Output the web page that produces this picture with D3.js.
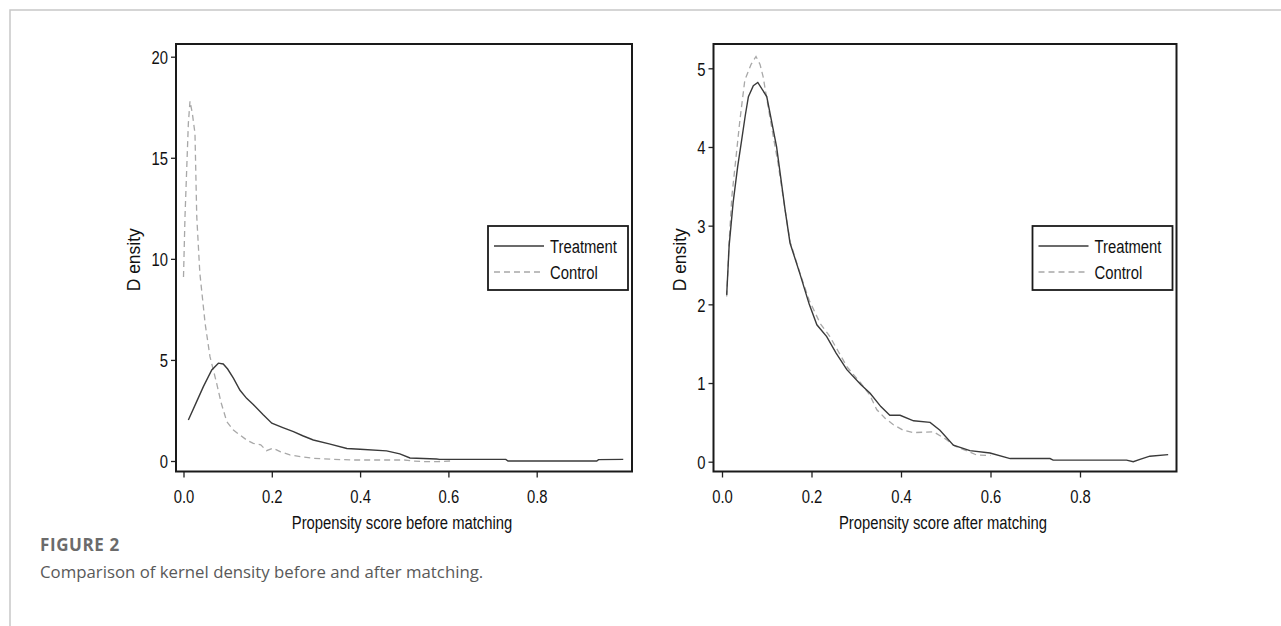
<!DOCTYPE html>
<html>
<head>
<meta charset="utf-8">
<script src="https://cdn.jsdelivr.net/npm/d3@7"></script>
<style>
  body { margin: 0; background: #fff; }
  .tick text, .legend text, .xtitle { font-family: "Liberation Sans", Arial, sans-serif; }
</style>
</head>
<body>
<div id="chart"></div>
<script>
// chart size
const width = 1281;
const height = 626;
const narrow = 0.78; // squeeze the labels to look like the condensed font of the original
const labelSize = "19px";

// kernel density values: [propensity score, density]
const beforeTreatment = [[0.011,2.03],[0.03,2.95],[0.045,3.68],[0.064,4.5],[0.079,4.84],[0.09,4.8],[0.1,4.55],[0.113,4.1],[0.128,3.5],[0.143,3.1],[0.158,2.8],[0.18,2.3],[0.2,1.87],[0.225,1.65],[0.249,1.45],[0.27,1.25],[0.294,1.04],[0.33,0.85],[0.37,0.62],[0.4,0.58],[0.46,0.5],[0.49,0.35],[0.513,0.15],[0.573,0.1],[0.58,0.08],[0.73,0.08],[0.735,0.0],[0.936,0.0],[0.94,0.07],[0.996,0.08]];
const beforeControl = [[0.0,9.1],[0.0034,12.1],[0.011,16.7],[0.0147,17.8],[0.02,17.2],[0.026,16.2],[0.03,12.1],[0.037,9.3],[0.049,6.8],[0.06,5.16],[0.075,3.85],[0.085,2.9],[0.098,1.95],[0.113,1.53],[0.13,1.25],[0.143,1.04],[0.158,0.87],[0.175,0.8],[0.188,0.51],[0.203,0.63],[0.22,0.45],[0.241,0.3],[0.27,0.2],[0.294,0.13],[0.34,0.08],[0.385,0.05],[0.5,0.05],[0.52,0.0],[0.543,-0.03],[0.575,-0.03],[0.604,0.0]];
const afterTreatment = [[0.0105,2.12],[0.016,2.75],[0.025,3.3],[0.035,3.75],[0.044,4.09],[0.052,4.4],[0.059,4.64],[0.07,4.78],[0.08,4.82],[0.1,4.64],[0.122,4.0],[0.141,3.2],[0.152,2.78],[0.174,2.39],[0.195,2.0],[0.212,1.74],[0.234,1.59],[0.255,1.38],[0.279,1.17],[0.31,0.98],[0.331,0.87],[0.355,0.7],[0.375,0.59],[0.398,0.59],[0.428,0.52],[0.465,0.5],[0.487,0.4],[0.517,0.21],[0.554,0.14],[0.599,0.11],[0.644,0.04],[0.733,0.04],[0.74,0.02],[0.904,0.02],[0.919,0.0],[0.934,0.03],[0.956,0.07],[0.997,0.09]];
const afterControl = [[0.0105,2.1],[0.016,2.8],[0.022,3.37],[0.03,3.8],[0.04,4.34],[0.051,4.85],[0.065,5.05],[0.076,5.15],[0.085,5.05],[0.092,4.89],[0.107,4.38],[0.125,3.8],[0.141,3.2],[0.152,2.8],[0.174,2.4],[0.195,2.05],[0.22,1.75],[0.24,1.6],[0.26,1.4],[0.28,1.2],[0.31,1.0],[0.33,0.85],[0.346,0.66],[0.365,0.55],[0.383,0.47],[0.405,0.4],[0.428,0.37],[0.473,0.38],[0.502,0.28],[0.52,0.2],[0.55,0.13],[0.569,0.085],[0.6,0.08]];

// tick labels
const xTicks = [0, 0.2, 0.4, 0.6, 0.8];
const beforeYTicks = [0, 5, 10, 15, 20];
const afterYTicks = [0, 1, 2, 3, 4, 5];
const legendLabels = ["Treatment", "Control"];

const svg = d3.select("#chart")
  .append("svg")
  .attr("width", width)
  .attr("height", height);

// grey frame around the figure (top and left edges)
svg.append("path")
  .attr("d", `M10,${height} L10,10 L${width},10`)
  .attr("fill", "none")
  .attr("stroke", "#c8c8c8")
  .attr("stroke-width", 1.5);

// condensed text: draw at (x,y) and squeeze horizontally
function squeezed(sel, x, y) {
  return sel.attr("x", 0).attr("y", 0)
    .attr("transform", `translate(${x},${y}) scale(${narrow},1)`);
}

function drawPanel(p) {
  const g = svg.append("g");

  // scales
  const x = d3.scaleLinear().domain([0, 1]).range([p.x0, p.x1]);
  const y = d3.scaleLinear().domain([0, p.yMax]).range([p.y0, p.yTop]);

  // y axis, ticks outside the plot box
  g.append("g")
    .attr("transform", `translate(${p.left},0)`)
    .call(d3.axisLeft(y).tickValues(p.yTicks).tickSize(5).tickFormat(d3.format("d")))
    .call(a => a.select(".domain").remove())
    .call(a => a.selectAll(".tick line").attr("stroke", "#222").attr("stroke-width", 1.3))
    .call(a => a.selectAll(".tick text").attr("font-size", labelSize).attr("fill", "#111")
      .attr("dy", "0.36em").each(function() { squeezed(d3.select(this), -8, 0); }));

  // x axis
  g.append("g")
    .attr("transform", `translate(0,${p.bottom})`)
    .call(d3.axisBottom(x).tickValues(xTicks).tickSize(6).tickFormat(d3.format(".1f")))
    .call(a => a.select(".domain").remove())
    .call(a => a.selectAll(".tick line").attr("stroke", "#222").attr("stroke-width", 1.3))
    .call(a => a.selectAll(".tick text").attr("font-size", labelSize).attr("fill", "#111")
      .attr("dy", "0.71em").each(function() { squeezed(d3.select(this), 0, 18); }));

  const line = d3.line()
    .x(d => x(d[0]))
    .y(d => y(d[1]));

  g.append("path")
    .datum(p.control)
    .attr("d", line)
    .attr("fill", "none")
    .attr("stroke", "#a8a8a8")
    .attr("stroke-width", 1.3)
    .attr("stroke-dasharray", "6,4");

  g.append("path")
    .datum(p.treatment)
    .attr("d", line)
    .attr("fill", "none")
    .attr("stroke", "#3a3a3a")
    .attr("stroke-width", 1.4);

  // plot box
  g.append("rect")
    .attr("x", p.left)
    .attr("y", p.top)
    .attr("width", p.right - p.left)
    .attr("height", p.bottom - p.top)
    .attr("fill", "none")
    .attr("stroke", "#1a1a1a")
    .attr("stroke-width", 2);

  // axis titles
  squeezed(g.append("text").attr("class", "xtitle"), (p.left + p.right) / 2 - 2, 529)
    .attr("text-anchor", "middle")
    .attr("font-size", labelSize)
    .attr("fill", "#111")
    .text(p.xTitle);

  g.append("text")
    .attr("transform", `translate(${p.yTitleX},${(p.top + p.bottom) / 2 + 2}) rotate(-90)`)
    .attr("text-anchor", "middle")
    .attr("font-family", "'Liberation Sans', Arial, sans-serif")
    .attr("font-size", "17.5px")
    .attr("fill", "#111")
    .text("D ensity");

  // legend
  const lg = g.append("g").attr("class", "legend");
  lg.append("rect")
    .attr("x", p.legX)
    .attr("y", 226)
    .attr("width", 140)
    .attr("height", 64)
    .attr("fill", "#fff")
    .attr("stroke", "#1a1a1a")
    .attr("stroke-width", 1.8);
  const styles = [{stroke: "#3a3a3a", dash: null}, {stroke: "#a8a8a8", dash: "6,4"}];
  legendLabels.forEach((lab, i) => {
    const ly = 246 + i * 26;
    lg.append("line")
      .attr("x1", p.legX + 6).attr("x2", p.legX + 56)
      .attr("y1", ly).attr("y2", ly)
      .attr("stroke", styles[i].stroke)
      .attr("stroke-width", 1.3)
      .attr("stroke-dasharray", styles[i].dash);
    squeezed(lg.append("text"), p.legX + 62, ly + 7)
      .attr("font-size", labelSize)
      .attr("fill", "#111")
      .text(lab);
  });
}

drawPanel({
  left: 176, right: 632, top: 44, bottom: 471.5,
  x0: 183.5, x1: 625, y0: 461, yTop: 56.7, yMax: 20,
  yTicks: beforeYTicks, legX: 488, yTitleX: 140,
  treatment: beforeTreatment, control: beforeControl,
  xTitle: "Propensity score before matching"
});

drawPanel({
  left: 713.5, right: 1176.5, top: 44, bottom: 471.5,
  x0: 722, x1: 1169.5, y0: 461.7, yTop: 68.3, yMax: 5,
  yTicks: afterYTicks, legX: 1032.5, yTitleX: 686,
  treatment: afterTreatment, control: afterControl,
  xTitle: "Propensity score after matching"
});

// caption
svg.append("text")
  .attr("x", 40)
  .attr("y", 551)
  .attr("font-family", "'Open Sans', sans-serif")
  .attr("font-weight", "bold")
  .attr("font-size", "17px")
  .attr("letter-spacing", "0.6px")
  .attr("fill", "#6b6b6b")
  .text("FIGURE 2");

svg.append("text")
  .attr("x", 40)
  .attr("y", 578)
  .attr("font-family", "'Open Sans', sans-serif")
  .attr("font-size", "16.8px")
  .attr("fill", "#595959")
  .text("Comparison of kernel density before and after matching.");
</script>
</body>
</html>
